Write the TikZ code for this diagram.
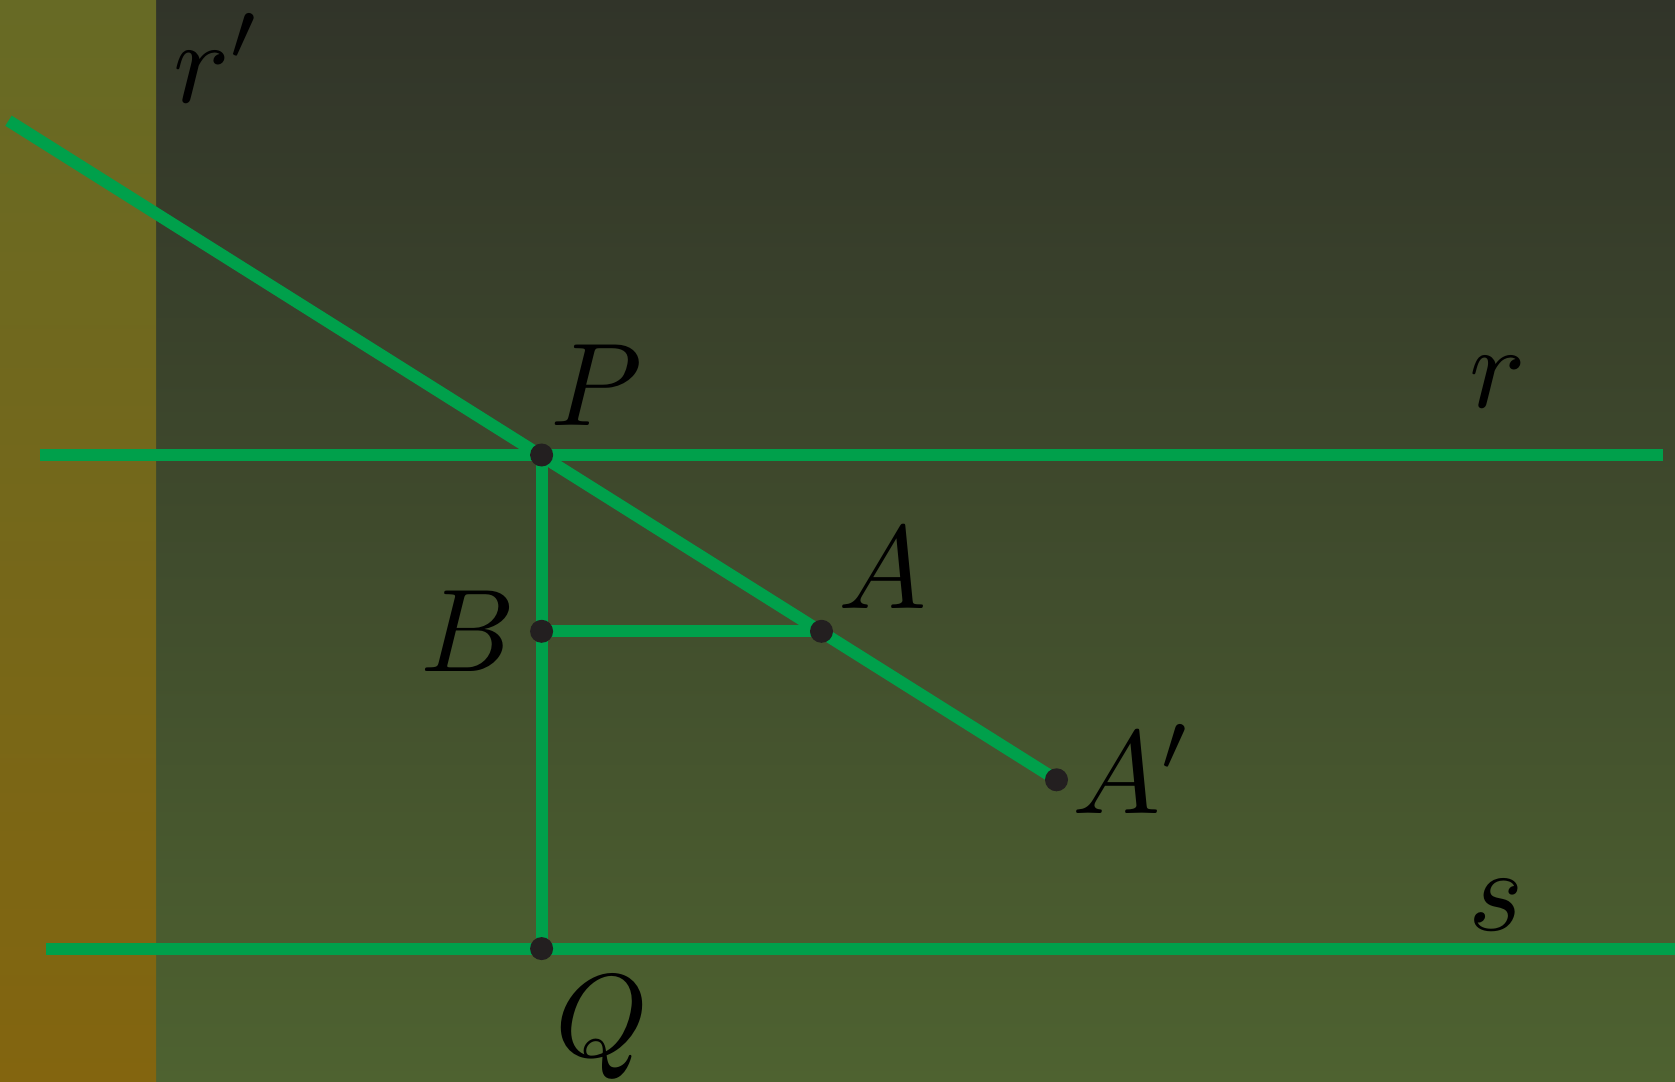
\documentclass[tikz,border=0pt]{standalone}
\usepackage{xcolor}
\usepackage{tikz}
\usetikzlibrary{positioning, calc}
\definecolor{lgreen}{RGB}{0,160,75}
\definecolor{dotcol}{RGB}{35,31,32}
\definecolor{stripTop}{RGB}{103,106,37}
\definecolor{stripBot}{RGB}{131,101,15}
\definecolor{bgTop}{RGB}{49,52,41}
\definecolor{bgBot}{RGB}{78,98,48}

\begin{document}
\begin{tikzpicture}[x=0.01cm, y=-0.01cm,
  gline/.style={draw=lgreen, line width=0.12cm},
  dot/.style={circle, fill=dotcol, inner sep=0pt, minimum size=0.23cm},
  lbl/.style={inner sep=0pt, font=\normalsize, scale=3.35}]
\useasboundingbox (0,0) rectangle (1675,1082);
\shade[top color=bgTop, bottom color=bgBot] (0,0) rectangle (1675,1082);
\shade[top color=stripTop, bottom color=stripBot] (0,0) rectangle (156,1082);
% points
\coordinate (P) at (541.6,455);
\coordinate (B) at (541.6,631.3);
\coordinate (A) at (821.5,631.3);
\coordinate (Ap) at (1056.5,779.8);
\coordinate (Q) at (541.6,948.6);
\coordinate (rl) at (39.5,455);
\coordinate (rr) at (1663,455);
\coordinate (sl) at (46,948.6);
\coordinate (sr) at (1675,948.6);
\coordinate (rpl) at (8.5,120.7);
% lines
\draw[gline] (rl) -- (rr);
\draw[gline] (sl) -- (sr);
\draw[gline] (rpl) -- (Ap);
\draw[gline] (P) -- (Q);
\draw[gline] (B) -- (A);
% dots
\foreach \pt in {P, B, A, Ap, Q}
  \node[dot] (d\pt) at (\pt) {};
% labels
\node[lbl] (lrp) at (218,58) {$r'$};
\node[lbl] (lP) at (596,385) {$P$};
\node[lbl] (lr) at (1498,382) {$r$};
\node[lbl] (lA) at (883,568) {$A$};
\node[lbl] (lB) at (468,631) {$B$};
\node[lbl] (lAp) at (1133,769) {$A'$};
\node[lbl] (ls) at (1496,905) {$s$};
\node[lbl] (lQ) at (602,1028) {$Q$};
\end{tikzpicture}
\end{document}
